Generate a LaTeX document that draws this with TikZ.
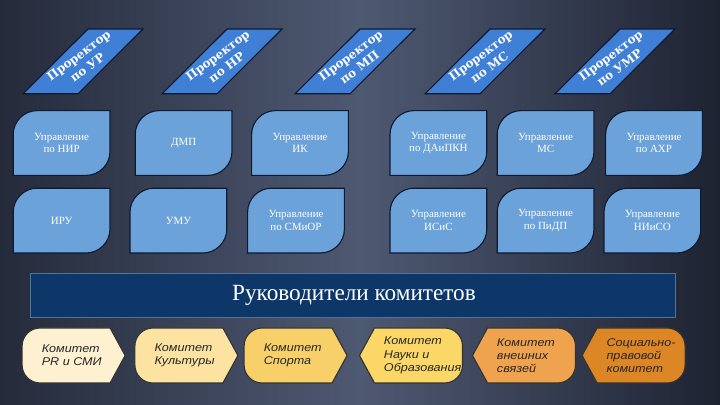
\documentclass[tikz,border=0pt]{standalone}
\usepackage{fontspec}
\setmainfont{Liberation Serif}
\setsansfont{Liberation Sans}
\newfontfamily\heavyfont{DejaVu Serif}
\newfontfamily\komfont[FakeStretch=1.12]{Liberation Sans}

\definecolor{bgedge}{HTML}{252B3B}
\definecolor{bgmid}{HTML}{4E5972}
\definecolor{bgright}{HTML}{1E2332}
\definecolor{prorblue}{HTML}{3F7FD6}
\definecolor{leafblue}{HTML}{6CA2DA}
\definecolor{outline}{HTML}{0E1A30}
\definecolor{bannerblue}{HTML}{0D3768}
\definecolor{komA}{HTML}{FDF1D2}
\definecolor{komB}{HTML}{FCE3A2}
\definecolor{komC}{HTML}{F8D06A}
\definecolor{komD}{HTML}{FBD767}
\definecolor{komE}{HTML}{F0A34E}
\definecolor{komF}{HTML}{DD8626}

\tikzset{
	prorect/.style={draw=outline,fill=prorblue,thick},
	prorecttext/.style={text=white,font=\heavyfont\bfseries\fontsize{8.5}{10.5}\selectfont,align=center,rotate=37},
	leaf/.style={draw=outline,fill=leafblue,thick},
	leaftext/.style={text=white,font=\fontsize{7.8}{8.8}\selectfont,align=center},
	komshape/.style={draw=black!80,thick},
	komtext/.style={text=black!85,font=\komfont\itshape\fontsize{8}{9.4}\selectfont,align=left,anchor=west}
}

% name, centre, text
\newcommand\prorect[3]{%
	\draw[prorect] (#2) ++(-1.5,-.81) -- ++(1.375,0) -- ++(1.625,1.62) -- ++(-1.375,0) -- cycle;
	\node[prorecttext] (#1) at (#2) {#3};}
% name, centre, text
\newcommand\leafbox[3]{%
	\draw[leaf] (#2) ++(-1.21,-.81) -- ++(0,1.02) arc[start angle=180,end angle=90,radius=.6] -- ++(1.82,0) -- ++(0,-1.02) arc[start angle=0,end angle=-90,radius=.6] -- cycle;
	\node[leaftext] (#1) at (#2) {#3};}
% name, centre, colour, text (tip to the right)
\newcommand\komright[4]{%
	\draw[komshape,fill=#3] (#2) ++(.9125,.6875) -- ++(-1.75,0) arc[start angle=90,end angle=180,radius=.45] -- ++(0,-.475) arc[start angle=180,end angle=270,radius=.45] -- ++(1.75,0) -- ++(.375,.6875) -- cycle;
	\node[komtext,xshift=-.92cm] (#1) at (#2) {#4};}
% name, centre, colour, text (tip to the left)
\newcommand\komleft[4]{%
	\draw[komshape,fill=#3] (#2) ++(-.9125,.6875) -- ++(1.75,0) arc[start angle=90,end angle=0,radius=.45] -- ++(0,-.475) arc[start angle=0,end angle=-90,radius=.45] -- ++(-1.75,0) -- ++(-.375,.6875) -- cycle;
	\node[komtext,xshift=-.8cm] (#1) at (#2) {#4};}

\begin{document}
\begin{tikzpicture}
	% background
	\fill[left color=bgedge,right color=bgmid] (0,0) rectangle (9,10.125);
	\fill[left color=bgmid,right color=bgright] (9,0) rectangle (18,10.125);
	\useasboundingbox (0,0) rectangle (18,10.125);

	% prorectors
	\prorect{pUR}{2.075,8.59}{Проректор\\по УР}
	\prorect{pNR}{5.55,8.59}{Проректор\\по НР}
	\prorect{pMP}{8.875,8.59}{Проректор\\по МП}
	\prorect{pMS}{12.125,8.59}{Проректор\\по МС}
	\prorect{pUMR}{15.375,8.59}{Проректор\\по УМР}

	% departments
	\leafbox{nir}{1.54,6.55}{Управление\\по НИР}
	\leafbox{dmp}{4.59,6.55}{ДМП}
	\leafbox{ik}{7.5,6.55}{Управление\\ИК}
	\leafbox{dapkn}{10.96,6.55}{Управление\\по ДАиПКН}
	\leafbox{ms}{13.64,6.55}{Управление\\МС}
	\leafbox{ahr}{16.35,6.55}{Управление\\по АХР}
	\leafbox{iru}{1.54,4.61}{ИРУ}
	\leafbox{umu}{4.46,4.61}{УМУ}
	\leafbox{smior}{7.4,4.61}{Управление\\по СМиОР}
	\leafbox{isis}{10.96,4.61}{Управление\\ИСиС}
	\leafbox{pidp}{13.64,4.61}{Управление\\по ПиДП}
	\leafbox{niiso}{16.31,4.61}{Управление\\НИиСО}

	% banner
	\draw[fill=bannerblue,draw=bannerblue!70!white] (.75,2.2) rectangle (16.875,3.3);
	\node[text=white,font=\fontsize{16.5}{18}\selectfont] (heads) at (8.85,2.75) {Руководители комитетов};

	% committees
	\komright{kPR}{1.84,1.2375}{komA}{Комитет\\PR и СМИ}
	\komright{kCult}{4.66,1.2375}{komB}{Комитет\\Культуры}
	\komright{kSport}{7.39,1.2375}{komC}{Комитет\\Спорта}
	\komleft{kSci}{10.275,1.2375}{komD}{Комитет\\Науки и\\Образования}
	\komleft{kExt}{13.1,1.2375}{komE}{Комитет\\внешних\\связей}
	\komleft{kSoc}{15.84,1.2375}{komF}{Социально-\\правовой\\комитет}
\end{tikzpicture}
\end{document}
